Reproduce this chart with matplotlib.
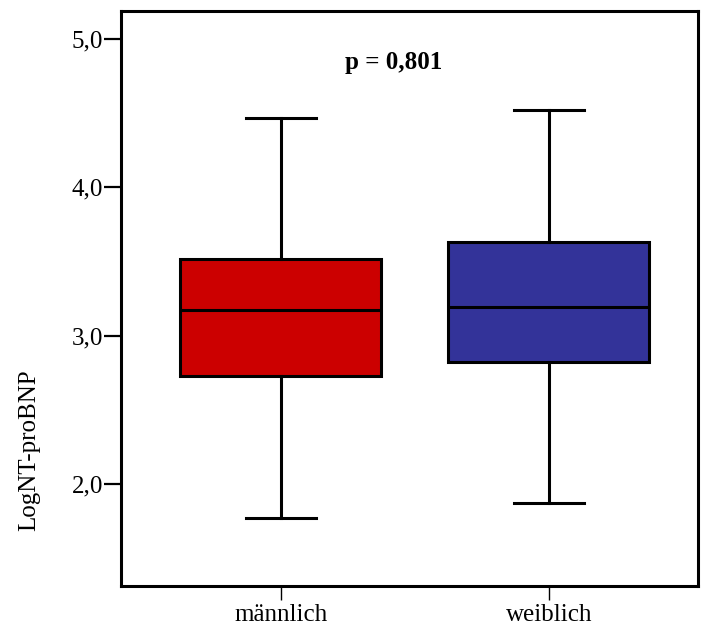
import matplotlib
matplotlib.use("Agg")
import matplotlib.pyplot as plt

# Kennwerte LogNT-proBNP nach Geschlecht
groups = ["männlich", "weiblich"]
whisker_low = [1.77, 1.87]
q1 = [2.73, 2.82]
median = [3.175, 3.196]
q3 = [3.52, 3.634]
whisker_high = [4.47, 4.52]
box_colors = ["#CC0000", "#333399"]
p_text = "p = 0,801"

plt.rcParams["font.family"] = ["Liberation Serif", "DejaVu Serif"]

fig = plt.figure(figsize=(7.01, 6.29), dpi=100)
ax = fig.add_axes([0.1726, 0.0684, 0.8231, 0.9141])

stats = []
for i, g in enumerate(groups):
    stats.append(dict(label=g, whislo=whisker_low[i], q1=q1[i], med=median[i],
                      q3=q3[i], whishi=whisker_high[i], fliers=[]))

lw = 2.2
bp = ax.bxp(stats, positions=[1, 2], widths=0.75, patch_artist=True,
            showfliers=False, capwidths=0.26,
            boxprops=dict(linewidth=lw, edgecolor="black"),
            medianprops=dict(color="black", linewidth=lw),
            whiskerprops=dict(color="black", linewidth=lw),
            capprops=dict(color="black", linewidth=lw))
for patch, c in zip(bp["boxes"], box_colors):
    patch.set_facecolor(c)

ax.set_xlim(0.403, 2.556)
ax.set_ylim(1.312, 5.19)
ax.set_yticks([2, 3, 4, 5])
ax.set_yticklabels(["2,0", "3,0", "4,0", "5,0"], fontsize=18)
ax.set_xticks([1, 2])
ax.set_xticklabels(groups, fontsize=18)
ax.tick_params(axis="y", length=12, width=1.6, pad=1)
ax.tick_params(axis="x", length=10, width=1.0, pad=3)
for s in ax.spines.values():
    s.set_linewidth(2.2)

# Achsentitel sitzt unterhalb der Mitte, wie im SPSS-Export
ax.set_ylabel("LogNT-proBNP", fontsize=18)
ax.yaxis.label.set_va("center")
ax.yaxis.set_label_coords(-0.159, 0.2365)

ax.text(1.422, 4.84, p_text, fontsize=18, fontweight="bold", ha="center", va="center")

fig.savefig("out.png", dpi=100)
